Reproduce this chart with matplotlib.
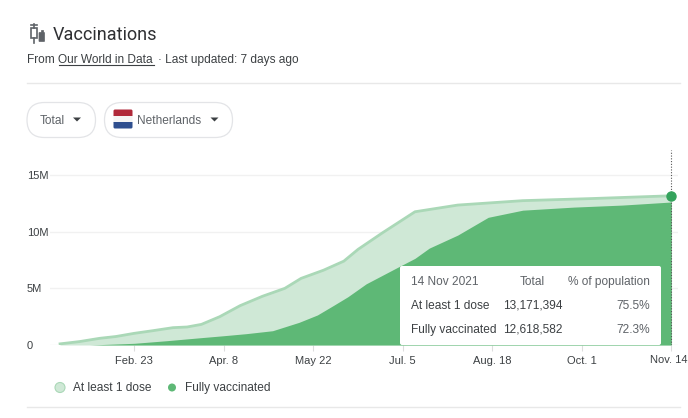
import matplotlib
matplotlib.use("Agg")
import matplotlib.pyplot as plt
from matplotlib.patches import FancyBboxPatch, Rectangle, Polygon, Circle

plt.rcParams['font.family'] = ['Liberation Sans', 'DejaVu Sans']

# days since 1 Jan 2021, values in millions
dose1_days = [17.5, 27, 37, 45, 54, 63, 73, 80, 87, 96, 106, 117, 128, 136, 147, 157, 164, 176, 192, 213, 245, 278, 318]
dose1_vals = [0.1, 0.3, 0.59, 0.75, 1.03, 1.26, 1.53, 1.59, 1.82, 2.5, 3.47, 4.3, 5.0, 5.88, 6.6, 7.4, 8.44, 9.9, 11.76, 12.35, 12.74, 12.92, 13.17]
full_days = [17.5, 32, 54, 70, 87, 98, 109, 122, 135, 144, 152, 159, 168, 185, 192, 199, 213, 228, 245, 270, 294, 318]
full_vals = [0, 0, 0.15, 0.38, 0.65, 0.82, 1.0, 1.26, 2.0, 2.65, 3.5, 4.26, 5.4, 7.0, 7.65, 8.55, 9.7, 11.27, 11.9, 12.17, 12.35, 12.62]

x_ticks = [54, 98, 142, 186, 230, 274, 318]
x_labels = ["Feb. 23", "Apr. 8", "May 22", "Jul. 5", "Aug. 18", "Oct. 1", "Nov. 14"]
y_ticks = [0, 5, 10, 15]
y_labels = ["0", "5M", "10M", "15M"]

tip_header = ["14 Nov 2021", "Total", "% of population"]
tip_rows = [("At least 1 dose", "13,171,394", "75.5%"),
            ("Fully vaccinated", "12,618,582", "72.3%")]

LIGHT = "#cfe8d6"
LIGHT_LINE = "#aad8b7"
DARK = "#5eb876"
DOT = "#34a35c"
GREY = "#5f6368"
TEXT = "#3c4043"
W, H = 688, 418


def px_to_day(px):
    return 54 + (px - 134.3) / 2.034


fig = plt.figure(figsize=(W / 100, H / 100), dpi=100, facecolor="white")

# chart area, pixel box 50..678 wide, 150..345 tall
ax = fig.add_axes([50 / W, 1 - 345 / H, 628 / W, 195 / H])
ax.set_xlim(px_to_day(50), px_to_day(678))
ax.set_ylim(0, 195 / 11.33)
for s in ax.spines.values():
    s.set_visible(False)
ax.set_yticks(y_ticks)
ax.set_yticklabels(y_labels, fontsize=8, color=TEXT)
for t in ax.get_yticklabels():
    t.set_ha("left")
ax.tick_params(axis="y", length=0, pad=16.5)
ax.set_xticks(x_ticks)
# last label is drawn by hand below so it stays inside the picture
ax.set_xticklabels(x_labels[:-1] + [""], fontsize=8, color=TEXT)
ax.tick_params(axis="x", length=4, width=0.8, color="#dddddd", pad=4)
ax.grid(axis="y", color="#f1f1f1", lw=1)
ax.set_axisbelow(True)

ax.fill_between(dose1_days, dose1_vals, color=LIGHT, lw=0)
ax.plot(dose1_days, dose1_vals, color=LIGHT_LINE, lw=2, solid_joinstyle="round")
ax.fill_between(full_days, full_vals, color=DARK, lw=0, zorder=3)
ax.plot([318, 318], [0, 195 / 11.33], color="#555555", lw=0.8, ls=(0, (1, 1.5)), zorder=4)
ax.plot([318], [dose1_vals[-1]], "o", color=DOT, ms=6.5, zorder=5, clip_on=False)

# everything else is placed in pixel coordinates
ov = fig.add_axes([0, 0, 1, 1], zorder=5)
ov.set_xlim(0, W)
ov.set_ylim(H, 0)
ov.axis("off")
ov.patch.set_alpha(0)

ov.text(687, 360, x_labels[-1], fontsize=8, color=TEXT, va="center", ha="right")

# header icon, syringe + vial
ov.add_patch(Rectangle((31, 28), 6, 10, fc="white", ec=GREY, lw=1.2))
ov.plot([34, 34], [24, 28], color=GREY, lw=1.2)
ov.plot([31, 37], [25, 25], color=GREY, lw=1.2)
ov.plot([34, 34], [38, 43], color=GREY, lw=1.2)
ov.add_patch(FancyBboxPatch((39.5, 33), 4.5, 8, boxstyle="round,pad=0.5", fc=GREY, ec=GREY, lw=0.5))
ov.add_patch(Rectangle((40.5, 29.5), 2.5, 2, fc=GREY, ec=GREY, lw=0.5))

ov.text(53, 35, "Vaccinations", fontsize=13, color="#2f3033", va="center", family="Roboto")
ov.text(27, 59.7, "From", fontsize=8.6, color=TEXT, va="center")
ov.text(58.5, 59.7, "Our World in Data", fontsize=8.6, color=TEXT, va="center")
ov.plot([58.5, 154], [64.5, 64.5], color=TEXT, lw=0.8)
ov.text(158, 59.7, "\u00b7 Last updated: 7 days ago", fontsize=8.6, color=TEXT, va="center")
ov.plot([27, 680], [83, 83], color="#e8e8e8", lw=1)
ov.plot([27, 680], [407, 407], color="#e8e8e8", lw=1)

# dropdown pills
for x0, x1 in [(27, 95.5), (104.5, 232.5)]:
    ov.add_patch(FancyBboxPatch((x0 + 17.5, 102.5 + 17.5), x1 - x0 - 35, 0.01,
                                boxstyle="round,pad=17.5", fc="white", ec="#e3e4e7", lw=0.9))
ov.text(40, 120.5, "Total", fontsize=8.6, color=GREY, va="center")
ov.text(137.5, 120.5, "Netherlands", fontsize=8.6, color=GREY, va="center")
for cx in (77, 214.5):
    ov.add_patch(Polygon([(cx - 4, 117.5), (cx + 4, 117.5), (cx, 121.5)], fc=TEXT, ec="none"))
flag_box = FancyBboxPatch((115, 111), 16, 16, boxstyle="round,pad=1.5", fc="none", ec="none")
ov.add_patch(flag_box)
for y0, col in [(109, "#b0293a"), (116, "#f4f4f4"), (122, "#2f4f8f")]:
    band = Rectangle((113, y0), 20, 7, fc=col, ec="none")
    ov.add_patch(band)
    band.set_clip_path(flag_box)

# tooltip
ov.add_patch(FancyBboxPatch((402, 269), 257, 74, boxstyle="round,pad=2", fc="#000000",
                            ec="none", alpha=0.10, zorder=1))
ov.add_patch(FancyBboxPatch((402, 268), 257, 75, boxstyle="round,pad=2", fc="white", ec="none", zorder=2))
ov.text(411, 282, tip_header[0], fontsize=8.6, color=GREY, va="center", zorder=3)
ov.text(545, 282, tip_header[1], fontsize=8.6, color=GREY, va="center", ha="right", zorder=3)
ov.text(650, 282, tip_header[2], fontsize=8.6, color=GREY, va="center", ha="right", zorder=3)
for y, row in zip((306, 330), tip_rows):
    ov.text(411, y, row[0], fontsize=8.6, color=TEXT, va="center", zorder=3)
    ov.text(563, y, row[1], fontsize=8.6, color=TEXT, va="center", ha="right", zorder=3)
    ov.text(650, y, row[2], fontsize=8.6, color=GREY, va="center", ha="right", zorder=3)

# legend
ov.add_patch(Circle((60, 387.5), 5, fc=LIGHT, ec=LIGHT_LINE, lw=0.8))
ov.text(73, 388, "At least 1 dose", fontsize=8.6, color=TEXT, va="center")
ov.add_patch(Circle((172, 387.5), 4, fc=DARK, ec="none"))
ov.text(185, 388, "Fully vaccinated", fontsize=8.6, color=TEXT, va="center")

fig.savefig("out.png", dpi=100)
